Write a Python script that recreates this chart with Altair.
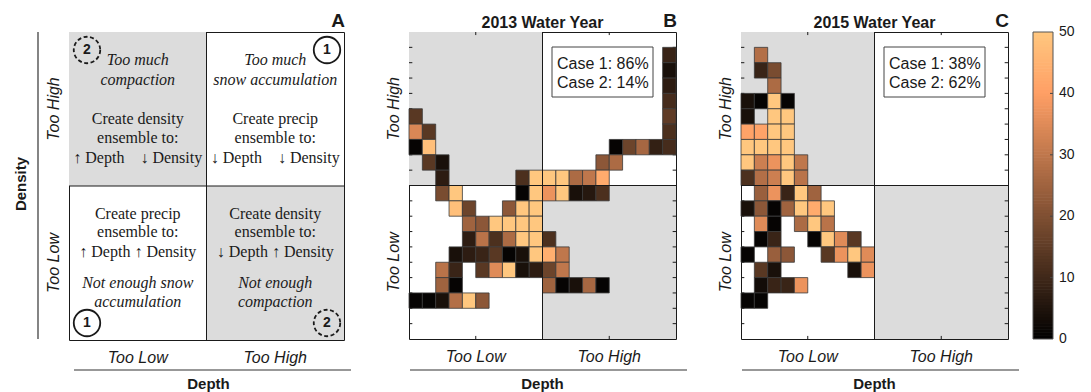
import altair as alt
import numpy as np
import pandas as pd

# ---------------------------------------------------------------- data
GRID = 20          # cells per side of the depth/density error grid
HALF = GRID / 2

# (row counted from the top, column counted from the left, count)
CELLS_2013 = [
    (1, 19, 9), (2, 19, 4), (3, 19, 7), (4, 19, 11),
    (5, 0, 14), (5, 19, 15),
    (6, 0, 34), (6, 1, 14), (6, 19, 12),
    (7, 0, 1), (7, 1, 48), (7, 15, 1), (7, 16, 17), (7, 17, 26), (7, 18, 8), (7, 19, 11),
    (8, 1, 14), (8, 2, 4), (8, 14, 22), (8, 15, 27),
    (9, 2, 7), (9, 8, 12), (9, 9, 50), (9, 10, 50), (9, 11, 50), (9, 12, 27), (9, 13, 30), (9, 14, 43),
    (10, 2, 19), (10, 3, 50), (10, 8, 1), (10, 9, 50), (10, 10, 37), (10, 11, 50),
    (10, 12, 4), (10, 13, 6), (10, 14, 12),
    (11, 3, 48), (11, 4, 17), (11, 7, 22), (11, 8, 50), (11, 9, 50),
    (12, 4, 25), (12, 5, 22), (12, 6, 50), (12, 7, 50), (12, 8, 50), (12, 9, 50),
    (13, 4, 7), (13, 5, 29), (13, 6, 12), (13, 7, 27), (13, 8, 50), (13, 9, 50), (13, 10, 12),
    (14, 3, 4), (14, 4, 7), (14, 5, 9), (14, 6, 14), (14, 7, 1), (14, 8, 4), (14, 9, 50),
    (14, 10, 44), (14, 11, 30),
    (15, 2, 29), (15, 3, 9), (15, 5, 14), (15, 6, 35), (15, 7, 50), (15, 8, 4), (15, 9, 7),
    (15, 10, 17), (15, 11, 30),
    (16, 2, 25), (16, 3, 1), (16, 10, 25), (16, 11, 1), (16, 12, 4), (16, 13, 26), (16, 14, 1),
    (17, 0, 1), (17, 1, 1), (17, 2, 4), (17, 3, 28), (17, 4, 50), (17, 5, 22),
]

CELLS_2015 = [
    (1, 1, 28),
    (2, 1, 9), (2, 2, 19),
    (3, 2, 27),
    (4, 0, 4), (4, 1, 1), (4, 2, 50), (4, 3, 1),
    (5, 0, 4), (5, 2, 50), (5, 3, 50),
    (6, 0, 41), (6, 1, 41), (6, 2, 50), (6, 3, 50),
    (7, 0, 50), (7, 1, 50), (7, 2, 50), (7, 3, 50),
    (8, 0, 50), (8, 1, 32), (8, 2, 37), (8, 3, 50), (8, 4, 30),
    (9, 0, 12), (9, 1, 28), (9, 2, 32), (9, 3, 50), (9, 4, 29),
    (10, 1, 24), (10, 2, 37), (10, 3, 9), (10, 4, 50), (10, 5, 25),
    (11, 0, 4), (11, 1, 22), (11, 2, 1), (11, 3, 25), (11, 4, 50), (11, 5, 43), (11, 6, 50),
    (12, 1, 35), (12, 2, 1), (12, 4, 27), (12, 5, 50), (12, 6, 29),
    (13, 1, 1), (13, 2, 9), (13, 5, 1), (13, 6, 50), (13, 7, 35), (13, 8, 14),
    (14, 0, 1), (14, 2, 24), (14, 3, 22), (14, 6, 14), (14, 7, 37), (14, 8, 50), (14, 9, 35),
    (15, 1, 14), (15, 2, 4), (15, 8, 4), (15, 9, 37),
    (16, 1, 3), (16, 2, 9), (16, 3, 9), (16, 4, 37),
    (17, 0, 1), (17, 1, 1),
]

CASES_2013 = ["Case 1: 86%", "Case 2: 14%"]
CASES_2015 = ["Case 1: 38%", "Case 2: 62%"]
TITLES = ["2013 Water Year", "2015 Water Year"]
LETTERS = ["A", "B", "C"]
LEVELS = ["Too Low", "Too High"]
COLORBAR_TICKS = [0, 10, 20, 30, 40, 50]

UP = "\u2191\ufe0e"
DOWN = "\u2193\ufe0e"
GAP = "\u00a0\u00a0\u00a0 "

# Panel A: italic notes and plain instructions per quadrant
A_UPPER_LEFT = (["Too much", "compaction"],
                ["Create density", "ensemble to:", f"{UP} Depth{GAP}{DOWN} Density"])
A_UPPER_RIGHT = (["Too much", "snow accumulation"],
                 ["Create precip", "ensemble to:", f"{DOWN} Depth{GAP}{DOWN} Density"])
A_LOWER_LEFT = (["Not enough snow", "accumulation"],
                ["Create precip", "ensemble to:", f"{UP} Depth {UP} Density"])
A_LOWER_RIGHT = (["Not enough", "compaction"],
                 ["Create density", "ensemble to:", f"{DOWN} Depth {UP} Density"])
A_CASE_MARKS = ["2", "1", "1", "2"]          # upper-left, upper-right, lower-left, lower-right
A_CASE_DASHED = [True, False, False, True]

# ---------------------------------------------------------------- style
SANS = "Liberation Sans"
SERIF = "Liberation Serif, DejaVu Serif, serif"
INK = "#1a1a1a"
SHADE = "#dcdcdc"
COPPER = alt.Scale(domain=[0, 40, 50], range=["#000000", "#ff9f65", "#ffc77f"],
                   interpolate="rgb", clamp=True)

A_W, A_H = 275, 308
P_W, P_H = 267, 307
CB_X0, CB_X1 = 292, 312


def one_row(**kw):
    return pd.DataFrame({k: [v] for k, v in kw.items()} or {"k": [0]})


def qx(f, s):
    return alt.X(f, type="quantitative", scale=s, axis=None)


def qy(f, s):
    return alt.Y(f, type="quantitative", scale=s, axis=None)


def text_at(text, x, y, **mk):
    style = dict(font=SANS, color=INK)
    style.update(mk)
    return alt.Chart(one_row(t=text)).mark_text(**style).encode(
        text="t:N", x=alt.value(x), y=alt.value(y))


def shade_frame(n):
    h = n / 2
    return pd.DataFrame({"x0": [0, h], "x1": [h, n], "y0": [h, 0], "y1": [n, h]})


def frame_common(xs, ys, n, width, height, letter, line_from, line_to, depth_dx=0):
    """Shaded quadrants, midlines and the annotation text around a panel."""
    h = n / 2
    shade = alt.Chart(shade_frame(n)).mark_rect(color=SHADE).encode(
        x=qx("x0", xs), x2="x1:Q", y=qy("y0", ys), y2="y1:Q")
    vmid = alt.Chart(one_row(m=h)).mark_rule(color=INK, strokeWidth=1).encode(x=qx("m", xs))
    hmid = alt.Chart(one_row(m=h)).mark_rule(color=INK, strokeWidth=1).encode(y=qy("m", ys))
    lv = pd.DataFrame({"t": LEVELS, "p": [n / 4, 3 * n / 4]})
    xlab = alt.Chart(lv).mark_text(font=SANS, fontSize=16, fontStyle="italic", color=INK).encode(
        x=qx("p", xs), y=alt.value(height + 18), text="t:N")
    ylab = alt.Chart(lv).mark_text(font=SANS, fontSize=16, fontStyle="italic", color=INK,
                                   angle=270).encode(
        y=qy("p", ys), x=alt.value(-15), text="t:N")
    under = alt.Chart(one_row()).mark_rule(color="#333333", strokeWidth=1.2).encode(
        x=alt.value(line_from), x2=alt.value(line_to), y=alt.value(338), y2=alt.value(338))
    depth = text_at("Depth", width / 2 + depth_dx, 352, fontSize=15, fontWeight="bold")
    let = text_at(letter, width + 1, -5, fontSize=19, fontWeight="bold",
                  align="right", baseline="alphabetic")
    return [shade], [vmid, hmid, xlab, ylab, under, depth, let]


# ---------------------------------------------------------------- panel A
axs = alt.Scale(domain=[0, 2], nice=False, zero=False)
ays = alt.Scale(domain=[0, 2], nice=False, zero=False)

note_rows = []
for (italic, plain), cx, upper in [(A_UPPER_LEFT, 0.5, True), (A_UPPER_RIGHT, 1.5, True),
                                   (A_LOWER_LEFT, 0.5, False), (A_LOWER_RIGHT, 1.5, False)]:
    if upper:
        ipos, ppos = [28, 48], [87, 106, 126]
    else:
        ipos, ppos = [251, 270], [182, 200, 220]
    for t, py in zip(italic, ipos):
        note_rows.append({"t": t, "x": cx, "y": 2 - 2 * py / A_H, "style": "italic"})
    for t, py in zip(plain, ppos):
        note_rows.append({"t": t, "x": cx, "y": 2 - 2 * py / A_H, "style": "normal"})
notes = pd.DataFrame(note_rows)

notes_plain = alt.Chart(notes[notes["style"] == "normal"]).mark_text(
    font=SERIF, fontSize=16, color=INK).encode(x=qx("x", axs), y=qy("y", ays), text="t:N")
notes_italic = alt.Chart(notes[notes["style"] == "italic"]).mark_text(
    font=SERIF, fontSize=16, fontStyle="italic", color=INK).encode(
    x=qx("x", axs), y=qy("y", ays), text="t:N")

mark_px = [(18, 18), (258, 18), (18, 291), (258, 291)]
marks = pd.DataFrame({
    "t": A_CASE_MARKS,
    "dashed": A_CASE_DASHED,
    "x": [2 * px / A_W for px, _ in mark_px],
    "y": [2 - 2 * py / A_H for _, py in mark_px],
})
ring_solid = alt.Chart(marks[~marks["dashed"]]).mark_point(
    shape="circle", size=700, filled=False, color=INK, strokeWidth=1.8, opacity=1).encode(
    x=qx("x", axs), y=qy("y", ays))
ring_dashed = alt.Chart(marks[marks["dashed"]]).mark_point(
    shape="circle", size=700, filled=False, color=INK, strokeWidth=1.8, opacity=1,
    strokeDash=[4, 2.5]).encode(x=qx("x", axs), y=qy("y", ays))
ring_text = alt.Chart(marks).mark_text(font=SANS, fontSize=14, fontWeight="bold", color=INK).encode(
    x=qx("x", axs), y=qy("y", ays), text="t:N")

anchor = alt.Chart(one_row()).mark_rect(color="white").encode(
    x=alt.value(-68), x2=alt.value(0), y=alt.value(-31), y2=alt.value(0))
density = text_at("Density", -48, A_H / 2 - 2, fontSize=15, fontWeight="bold", angle=270)
density_rule = alt.Chart(one_row()).mark_rule(color="#333333", strokeWidth=1.2).encode(
    x=alt.value(-31), x2=alt.value(-31), y=alt.value(0), y2=alt.value(307))

a_under, a_over = frame_common(axs, ays, 2, A_W, A_H, LETTERS[0], 5, 282, depth_dx=2)
panel_a = alt.layer(
    anchor, *a_under, *a_over, notes_plain, notes_italic,
    ring_solid, ring_dashed, ring_text, density, density_rule,
).properties(width=A_W, height=A_H)


# ---------------------------------------------------------------- panels B and C
def cell_frame(cells):
    r = np.array([c[0] for c in cells])
    c = np.array([c[1] for c in cells])
    v = np.array([c[2] for c in cells])
    return pd.DataFrame({"x0": c, "x1": c + 1, "y0": GRID - r - 1, "y1": GRID - r, "v": v})


def tick_frame():
    rows = []
    for k in range(1, GRID):
        rows.append((0, 0.25, k, k))
        rows.append((GRID - 0.25, GRID, k, k))
    for p in (GRID / 4, 3 * GRID / 4):
        rows.append((p, p, 0, 0.2))
        rows.append((p, p, GRID - 0.2, GRID))
    return pd.DataFrame(rows, columns=["x0", "x1", "y0", "y1"])


def heat_panel(cells, title, letter, cases):
    xs = alt.Scale(domain=[0, GRID], nice=False, zero=False)
    ys = alt.Scale(domain=[0, GRID], nice=False, zero=False)
    under, over = frame_common(xs, ys, GRID, P_W, P_H, letter, 1, 278)
    ticks = alt.Chart(tick_frame()).mark_rule(color=INK, strokeWidth=1).encode(
        x=qx("x0", xs), x2="x1:Q", y=qy("y0", ys), y2="y1:Q")
    rects = alt.Chart(cell_frame(cells)).mark_rect(stroke="#3a3a3a", strokeWidth=0.8).encode(
        x=qx("x0", xs), x2="x1:Q", y=qy("y0", ys), y2="y1:Q",
        color=alt.Color("v:Q", scale=COPPER, legend=None))
    box = alt.Chart(one_row()).mark_rect(fill="white", stroke="#444444", strokeWidth=1).encode(
        x=alt.value(143), x2=alt.value(244), y=alt.value(15), y2=alt.value(65))
    lines = [text_at(t, 148, 37 + 19 * i, fontSize=16, align="left", baseline="alphabetic")
             for i, t in enumerate(cases)]
    head = text_at(title, P_W / 2, -4, fontSize=16, fontWeight="bold", baseline="alphabetic")
    return alt.layer(*under, ticks, rects, *over, box, *lines, head).properties(
        width=P_W, height=P_H)


panel_b = heat_panel(CELLS_2013, TITLES[0], LETTERS[1], CASES_2013)
panel_c_grid = heat_panel(CELLS_2015, TITLES[1], LETTERS[2], CASES_2015)

# colour bar beside panel C, sharing the copper colour scale
steps = np.arange(0, 50, 0.5)
ramp = pd.DataFrame({"lo": steps, "hi": np.minimum(steps + 0.6, 50), "v": steps + 0.25})
cbs = alt.Scale(domain=[0, 50], nice=False, zero=False)
cb_rect = alt.Chart(ramp).mark_rect().encode(
    x=alt.value(CB_X0), x2=alt.value(CB_X1),
    y=qy("lo", cbs), y2="hi:Q",
    color=alt.Color("v:Q", scale=COPPER, legend=None))
cb_marks = pd.DataFrame({"t": COLORBAR_TICKS, "lab": [str(t) for t in COLORBAR_TICKS]})
cb_ticks = alt.Chart(cb_marks[(cb_marks["t"] > 0) & (cb_marks["t"] < 50)]).mark_rule(
    color="#444444", strokeWidth=1).encode(
    x=alt.value(CB_X1 - 3), x2=alt.value(CB_X1), y=qy("t", cbs))
cb_labels = alt.Chart(cb_marks).mark_text(
    font=SANS, fontSize=14, color=INK, align="left").encode(
    x=alt.value(CB_X1 + 6), y=qy("t", cbs), text="lab:N")
cb_frame = alt.Chart(one_row()).mark_rect(fill=None, stroke="#555555", strokeWidth=1).encode(
    x=alt.value(CB_X0), x2=alt.value(CB_X1), y=alt.value(0), y2=alt.value(P_H))
colorbar = alt.layer(cb_rect, cb_ticks, cb_labels, cb_frame).properties(width=P_W, height=P_H)

panel_c = alt.layer(panel_c_grid, colorbar).resolve_scale(y="independent").properties(
    width=P_W, height=P_H)

chart = alt.hconcat(panel_a, panel_b, panel_c, spacing=65, bounds="flush").properties(
    padding=0
).configure_view(stroke=INK, strokeWidth=1)

chart.save("out.html", embed_options={"renderer": "svg", "actions": False})
